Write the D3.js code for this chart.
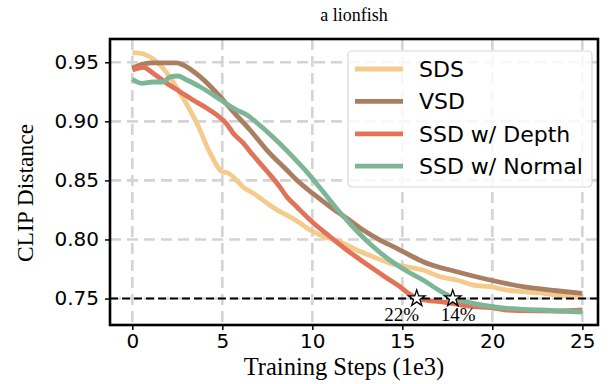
<!DOCTYPE html>
<html><head><meta charset="utf-8">
<script src="https://cdn.jsdelivr.net/npm/d3@7"></script>
<style>body{margin:0;background:#fff}svg{display:block}</style>
</head><body>
<svg id="c" width="610" height="384"></svg>
<script>
const title = "a lionfish";
const xLabel = "Training Steps (1e3)";
const yLabel = "CLIP Distance";
const xTicks = [0, 5, 10, 15, 20, 25];
const yTicks = [0.75, 0.80, 0.85, 0.90, 0.95];
const seriesNames = ["SDS", "VSD", "SSD w/ Depth", "SSD w/ Normal"];
const seriesColors = ["#F4CB8C", "#A97E61", "#E27358", "#7DB597"];

const sdsX = [0, 0.26, 1.63, 2.65, 3.58, 4.32, 5.04, 5.24, 5.8, 6.15, 6.7, 7.47, 8.2, 8.58, 9.32, 9.87, 10.43, 11.54, 12.65, 13.37, 14.3, 15.24, 16.15, 17.1, 18.02, 18.93, 19.87, 20.8, 21.7, 22.65, 23.58, 25];
const sdsY = [0.958, 0.958, 0.9463, 0.924, 0.8986, 0.8732, 0.857, 0.8567, 0.850, 0.8444, 0.8393, 0.8309, 0.8235, 0.8207, 0.8139, 0.808, 0.8038, 0.7978, 0.7898, 0.7854, 0.780, 0.7769, 0.7741, 0.7685, 0.7657, 0.7614, 0.760, 0.7572, 0.7558, 0.7547, 0.753, 0.7515];

const vsdX = [0, 0.6, 1.15, 2.46, 2.82, 3.76, 4.69, 5.6, 6.54, 7.47, 8.58, 9.13, 10.06, 10.99, 11.91, 12.82, 13.76, 14.69, 15.5, 16.15, 18.02, 19.87, 21.7, 23.58, 25];
const vsdY = [0.945, 0.9485, 0.9495, 0.9495, 0.9477, 0.9378, 0.924, 0.9082, 0.8927, 0.8757, 0.8588, 0.8503, 0.8385, 0.8277, 0.8179, 0.808, 0.7995, 0.7925, 0.786, 0.7812, 0.7727, 0.7657, 0.760, 0.7566, 0.7544];

const depthX = [0, 0.6, 1.15, 1.91, 2.65, 3.37, 4.13, 4.69, 5.24, 5.6, 6.15, 6.7, 7.47, 8.2, 8.58, 9.13, 10.06, 10.99, 11.91, 12.82, 13.76, 14.3, 14.87, 15.42, 15.8, 16.15, 17.1, 18.02, 18.93, 19.87, 20.8, 21.7, 23.58, 25];
const depthY = [0.9435, 0.9458, 0.9407, 0.9322, 0.9251, 0.918, 0.9113, 0.9054, 0.8978, 0.890, 0.8817, 0.8715, 0.858, 0.8444, 0.8362, 0.8277, 0.8139, 0.8023, 0.7911, 0.7812, 0.7713, 0.7657, 0.760, 0.7535, 0.7505, 0.749, 0.7473, 0.7453, 0.7431, 0.7424, 0.7403, 0.7398, 0.7394, 0.7403];

const normalX = [0, 0.52, 1.15, 1.7, 2.1, 2.54, 3.02, 3.76, 4.5, 5.24, 5.8, 6.37, 6.9, 7.81, 8.76, 9.68, 10.59, 11.54, 12.47, 13.37, 14.3, 15.24, 16.15, 17.1, 17.82, 18.93, 20.8, 22.65, 25];
const normalY = [0.9356, 0.9322, 0.9333, 0.9333, 0.9376, 0.9384, 0.935, 0.9293, 0.9223, 0.9147, 0.9096, 0.9054, 0.899, 0.8867, 0.8724, 0.8575, 0.8406, 0.8228, 0.8072, 0.794, 0.7826, 0.7733, 0.7657, 0.7564, 0.7508, 0.7459, 0.7417, 0.7403, 0.7386];

const thresholdY = 0.75;
const markerX = [15.8, 17.8];
const markerLabels = ["22%", "14%"];

const seriesX = [sdsX, vsdX, depthX, normalX];
const seriesY = [sdsY, vsdY, depthY, normalY];

const svg = d3.select("#c");
const L = 110, T = 39, W = 488, H = 286;
const x = d3.scaleLinear().domain([-1.24, 25.87]).range([L, L + W]);
const y = d3.scaleLinear().domain([0.7276, 0.9697]).range([T + H, T]);

svg.append("defs").append("clipPath").attr("id", "clip")
  .append("rect").attr("x", L).attr("y", T).attr("width", W).attr("height", H);

// grid
const grid = svg.append("g");
grid.selectAll(".gx").data(xTicks).join("line")
  .attr("x1", d => x(d)).attr("x2", d => x(d)).attr("y1", T).attr("y2", T + H)
  .attr("stroke", "#d4d4d4").attr("stroke-width", 2.6).attr("stroke-dasharray", "11,6");
grid.selectAll(".gy").data(yTicks).join("line")
  .attr("y1", d => y(d)).attr("y2", d => y(d)).attr("x1", L).attr("x2", L + W)
  .attr("stroke", "#d4d4d4").attr("stroke-width", 2.6).attr("stroke-dasharray", "11,6");

// lines
const line = d3.line().x(d => x(d[0])).y(d => y(d[1])).curve(d3.curveMonotoneX);
const lines = svg.append("g").attr("clip-path", "url(#clip)");
seriesNames.forEach((n, i) => {
  const pts = seriesX[i].map((v, j) => [v, seriesY[i][j]]);
  lines.append("path").datum(pts).attr("d", line)
    .attr("fill", "none").attr("stroke", seriesColors[i]).attr("stroke-width", 4.8)
    .attr("stroke-linejoin", "round").attr("stroke-linecap", "butt");
});

// threshold line
svg.append("line").attr("x1", L).attr("x2", L + W).attr("y1", y(thresholdY)).attr("y2", y(thresholdY))
  .attr("stroke", "#000").attr("stroke-width", 2).attr("stroke-dasharray", "8,4");

// stars
const star = d3.symbol().type(d3.symbolStar).size(85);
svg.selectAll(".star").data(markerX).join("path")
  .attr("d", star).attr("transform", d => `translate(${x(d)},${y(thresholdY)})`)
  .attr("fill", "#fff").attr("stroke", "#000").attr("stroke-width", 1.3);
const labelDx = [-15, 5.5];
svg.selectAll(".ml").data(markerLabels).join("text")
  .attr("x", (d, i) => x(markerX[i]) + labelDx[i]).attr("y", 321)
  .attr("text-anchor", "middle").attr("font-family", "Liberation Serif, Times New Roman, serif")
  .attr("font-size", 19).text(d => d);

// legend
const lg = svg.append("g");
lg.append("rect").attr("x", 348).attr("y", 51).attr("width", 244).attr("height", 136).attr("rx", 4)
  .attr("fill", "#fff").attr("fill-opacity", 0.8).attr("stroke", "#d8d8d8").attr("stroke-width", 1.2);
seriesNames.forEach((n, i) => {
  const yy = 69 + i * 32.4;
  lg.append("line").attr("x1", 355).attr("x2", 403).attr("y1", yy).attr("y2", yy)
    .attr("stroke", seriesColors[i]).attr("stroke-width", 4.8);
  lg.append("text").attr("x", 419).attr("y", yy).attr("dy", "0.36em")
    .attr("font-family", "DejaVu Sans, sans-serif").attr("font-size", 22).text(n);
});

// frame
svg.append("rect").attr("x", L).attr("y", T).attr("width", W).attr("height", H)
  .attr("fill", "none").attr("stroke", "#000").attr("stroke-width", 2.6);

// axes
const xa = svg.append("g").attr("transform", `translate(0,${T + H})`)
  .call(d3.axisBottom(x).tickValues(xTicks).tickFormat(d3.format("d")).tickSize(5).tickPadding(4));
const ya = svg.append("g").attr("transform", `translate(${L},0)`)
  .call(d3.axisLeft(y).tickValues(yTicks).tickFormat(d3.format(".2f")).tickSize(5).tickPadding(6));
[xa, ya].forEach(a => {
  a.select(".domain").remove();
  a.selectAll("line").attr("stroke", "#000").attr("stroke-width", 1.5);
  a.selectAll("text").attr("font-family", "DejaVu Sans, sans-serif").attr("font-size", 20).attr("fill", "#000");
});

// titles
svg.append("text").attr("x", 354).attr("y", 21).attr("text-anchor", "middle")
  .attr("font-family", "Liberation Serif, Times New Roman, serif").attr("font-size", 18).text(title);
svg.append("text").attr("x", 344).attr("y", 375).attr("text-anchor", "middle")
  .attr("font-family", "Liberation Serif, Times New Roman, serif").attr("font-size", 24.5).text(xLabel);
svg.append("text").attr("transform", "translate(33,193) rotate(-90)").attr("text-anchor", "middle")
  .attr("font-family", "Liberation Serif, Times New Roman, serif").attr("font-size", 23.5).text(yLabel);
</script>
</body></html>
